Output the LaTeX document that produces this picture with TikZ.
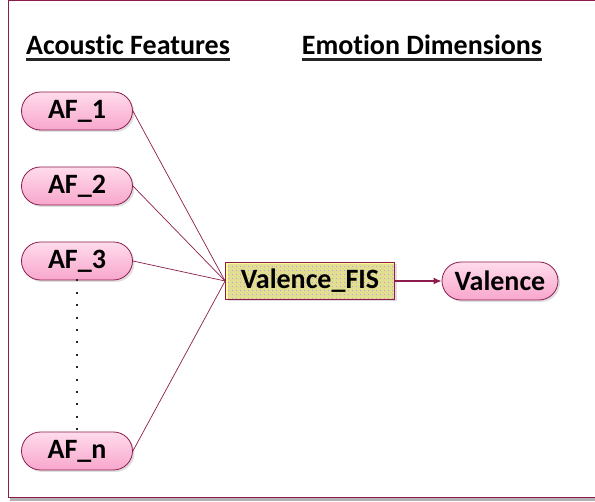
\documentclass[tikz,border=0pt]{standalone}
\usepackage{fontspec}
\setmainfont[Ligatures=NoCommon]{Carlito}
\usetikzlibrary{shapes.misc,shadows,patterns,arrows.meta}
\definecolor{maroon}{HTML}{8C1C4C}
\definecolor{pinklight}{HTML}{FFDCEC}
\definecolor{pinkdark}{HTML}{F8A6CC}
\definecolor{fisyellow}{HTML}{FFFF99}
\definecolor{dotpink}{HTML}{EE88DD}
% sparse dot texture for the FIS box
\pgfdeclarepatternformonly{sparsedots}{\pgfqpoint{-1pt}{-1pt}}{\pgfqpoint{1pt}{1pt}}{\pgfqpoint{4pt}{4pt}}{%
  \pgfpathrectangle{\pgfqpoint{-0.4pt}{-0.4pt}}{\pgfqpoint{0.8pt}{0.8pt}}\pgfusepath{fill}}
\tikzset{
  pill/.style={rounded rectangle, draw=maroon, line width=0.8pt,
    top color=pinklight, bottom color=pinkdark,
    minimum width=111pt, minimum height=38pt, inner sep=0pt,
    font=\fontsize{28}{32}\selectfont\bfseries,
    drop shadow={shadow xshift=2pt, shadow yshift=-2pt, opacity=0.25}},
  fisbox/.style={rectangle, draw=maroon, line width=0.8pt,
    preaction={fill=fisyellow}, pattern=sparsedots, pattern color=dotpink,
    minimum width=169pt, minimum height=37pt, inner sep=0pt,
    font=\fontsize{28}{32}\selectfont\bfseries,
    drop shadow={shadow xshift=2pt, shadow yshift=-2pt, opacity=0.25}},
  header/.style={font=\fontsize{28}{32}\selectfont\bfseries, inner sep=0pt, anchor=base},
  rulebar/.style={black!85, line width=2.2pt},
  link/.style={maroon, line width=0.7pt},
}
\begin{document}
\begin{tikzpicture}[x=1pt,y=-1pt]
  \useasboundingbox (0,0) rectangle (595,502);
  % outer frame with a soft grey edge below
  \fill[black!30] (10,498) rectangle (595,501);
  \draw[maroon, line width=1pt] (8,1) -- (600,1) (8,1) -- (8,498) -- (600,498);

  % column headings, underlined
  \node[header] (h1) at (128,55) {Acoustic Features};
  \node[header] (h2) at (422,55) {Emotion Dimensions};
  \draw[rulebar] ([yshift=-4.5pt]h1.base west) -- ([yshift=-4.5pt]h1.base east);
  \draw[rulebar] ([yshift=-4.5pt]h2.base west) -- ([yshift=-4.5pt]h2.base east);

  % acoustic feature inputs
  \node[pill] (af1) at (77,111) {AF\_1};
  \node[pill] (af2) at (77,186) {AF\_2};
  \node[pill] (af3) at (77,261) {AF\_3};
  \node[pill] (afn) at (77,451) {AF\_n};

  % fuzzy inference system and its output
  \node[fisbox] (fis) at (310,281) {Valence\_FIS};
  \node[pill, minimum width=116pt] (val) at (500,281) {Valence};

  % ellipsis between AF_3 and AF_n
  \draw[black!85, line width=2pt, dash pattern=on 2pt off 10.4pt]
    ([yshift=1pt]af3.south) -- (afn.north);

  % connections into the FIS
  \foreach \n in {af1,af2,af3,afn}
    \draw[link] (\n.east) -- (fis.west);
  \draw[maroon, line width=1.3pt, -{Latex[length=8pt,width=7pt]}] (fis.east) -- (val.west);
\end{tikzpicture}
\end{document}
